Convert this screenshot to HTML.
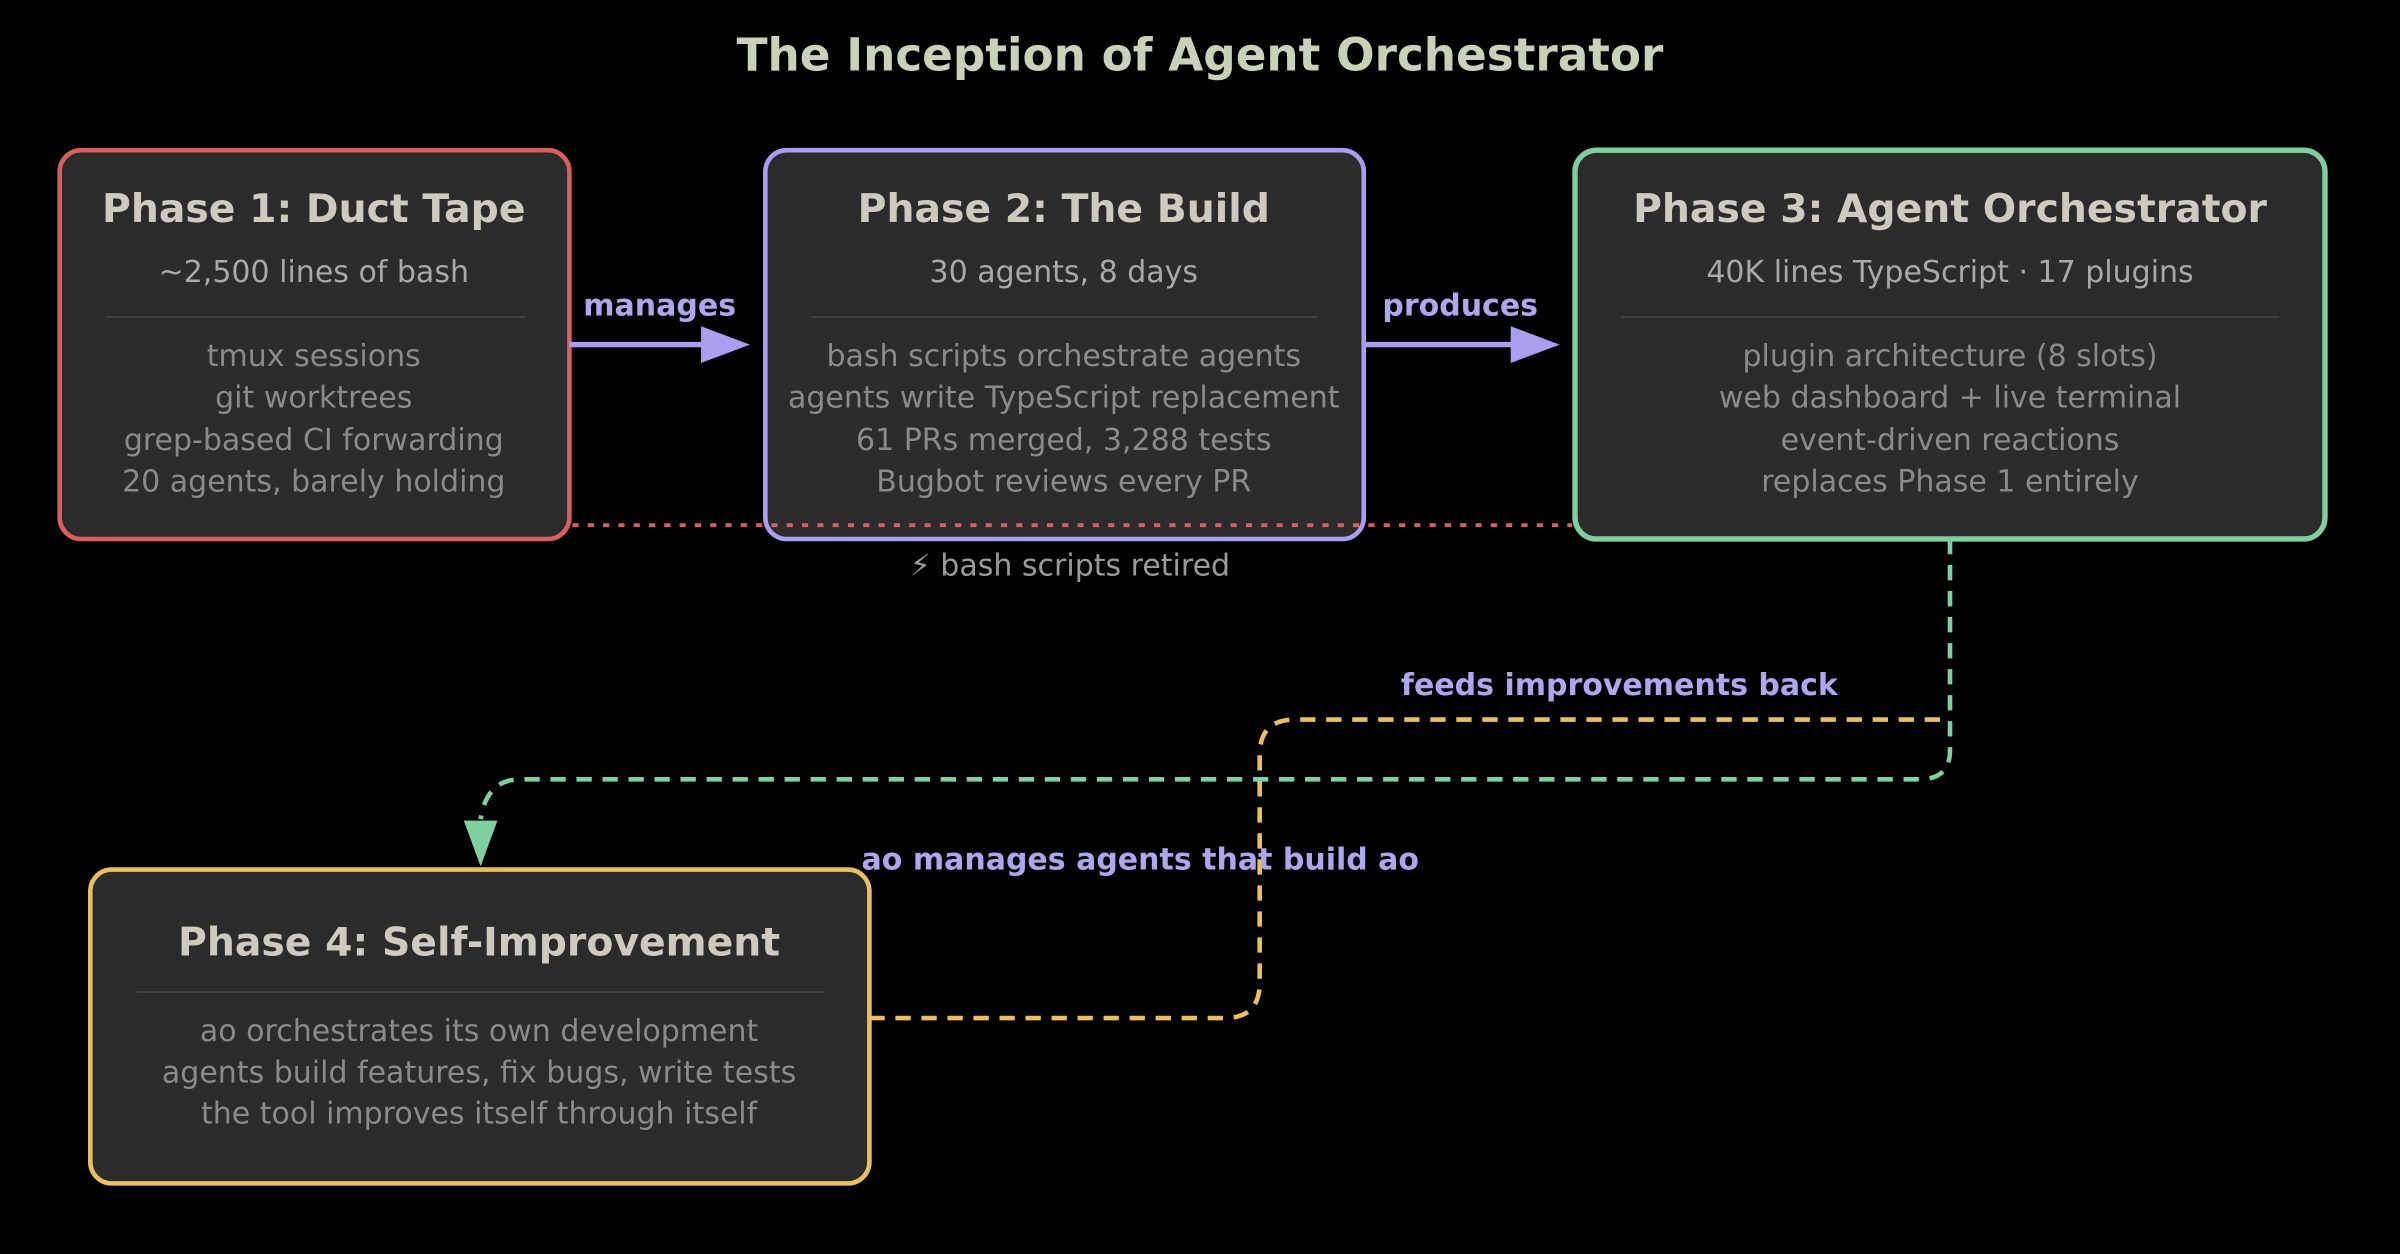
<!DOCTYPE html>
<html><head><meta charset="utf-8"><style>
html,body{margin:0;padding:0;background:#000;}
svg{display:block;font-family:"DejaVu Sans","Liberation Sans",sans-serif;}
.t{font-size:25.7px;font-weight:bold;fill:#cfcac0;text-anchor:middle}
.s{font-size:19.6px;fill:#a8a8a8;text-anchor:middle}
.l{font-size:19.6px;fill:#8a8a8a;text-anchor:middle}
.e{font-size:19.6px;font-weight:bold;fill:#aea6ee;text-anchor:middle}
</style></head><body>
<svg width="2400" height="1254" viewBox="0 0 1568 819" xmlns="http://www.w3.org/2000/svg">
<rect width="1568" height="819" fill="#000"/>
<text x="784" y="46" style="font-size:29.6px;font-weight:bold;fill:#c9d2b8;text-anchor:middle">The Inception of Agent Orchestrator</text>

<path d="M1274 352 V490 Q1274 509 1254 509 H340 Q318 509 314 535" fill="none" stroke="#7fcfa0" stroke-width="3" stroke-dasharray="10 7"/>
<polygon points="303,536 325,536 314,566" fill="#7fcfa0"/>
<path d="M568 665 H800 Q823 665 823 642 V493 Q823 470 846 470 H1274" fill="none" stroke="#e8c060" stroke-width="3" stroke-dasharray="10 7"/>

<rect x="39" y="98" width="333" height="254" rx="14" fill="#2b2b2b" stroke="#d95f5f" stroke-width="3"/>
<rect x="500" y="98" width="391" height="254" rx="14" fill="#2b2b2b" stroke="#a99ef0" stroke-width="3"/>
<rect x="1029" y="98" width="490" height="254" rx="14" fill="#2b2b2b" stroke="#7fcfa0" stroke-width="3.5"/>
<rect x="59" y="568" width="509" height="205" rx="14" fill="#2b2b2b" stroke="#e8c060" stroke-width="3"/>

<line x1="374" y1="343" x2="1027" y2="343" stroke="#d95f5f" stroke-width="2.5" stroke-dasharray="4 6"/>

<text class="t" x="205" y="145">Phase 1: Duct Tape</text>
<text class="s" x="205" y="184">~2,500 lines of bash</text>
<line x1="69" y1="207" x2="343" y2="207" stroke="#444" stroke-width="1"/>
<text class="l" x="205" y="239">tmux sessions</text>
<text class="l" x="205" y="266">git worktrees</text>
<text class="l" x="205" y="294">grep-based CI forwarding</text>
<text class="l" x="205" y="321">20 agents, barely holding</text>

<text class="t" x="695" y="145">Phase 2: The Build</text>
<text class="s" x="695" y="184">30 agents, 8 days</text>
<line x1="530" y1="207" x2="861" y2="207" stroke="#444" stroke-width="1"/>
<text class="l" x="695" y="239">bash scripts orchestrate agents</text>
<text class="l" x="695" y="266">agents write TypeScript replacement</text>
<text class="l" x="695" y="294">61 PRs merged, 3,288 tests</text>
<text class="l" x="695" y="321">Bugbot reviews every PR</text>

<text class="t" x="1274" y="145">Phase 3: Agent Orchestrator</text>
<text class="s" x="1274" y="184">40K lines TypeScript · 17 plugins</text>
<line x1="1059" y1="207" x2="1489" y2="207" stroke="#444" stroke-width="1"/>
<text class="l" x="1274" y="239">plugin architecture (8 slots)</text>
<text class="l" x="1274" y="266">web dashboard + live terminal</text>
<text class="l" x="1274" y="294">event-driven reactions</text>
<text class="l" x="1274" y="321">replaces Phase 1 entirely</text>

<text class="t" x="313" y="624">Phase 4: Self-Improvement</text>
<line x1="89" y1="648" x2="538" y2="648" stroke="#444" stroke-width="1"/>
<text class="l" x="313" y="680">ao orchestrates its own development</text>
<text class="l" x="313" y="707">agents build features, fix bugs, write tests</text>
<text class="l" x="313" y="734">the tool improves itself through itself</text>

<line x1="372" y1="225" x2="462" y2="225" stroke="#a99ef0" stroke-width="3.5"/>
<polygon points="458,213 490,225 458,237" fill="#a99ef0"/>
<line x1="891" y1="225" x2="991" y2="225" stroke="#a99ef0" stroke-width="3.5"/>
<polygon points="987,213 1019,225 987,237" fill="#a99ef0"/>

<text class="e" x="431" y="206">manages</text>
<text class="e" x="954" y="206">produces</text>
<text x="699" y="376" style="font-size:19.6px;fill:#9a9a9a;text-anchor:middle">⚡ bash scripts retired</text>
<text class="e" x="1058" y="454">feeds improvements back</text>
<text class="e" x="745" y="568">ao manages agents that build ao</text>
</svg>
</body></html>
